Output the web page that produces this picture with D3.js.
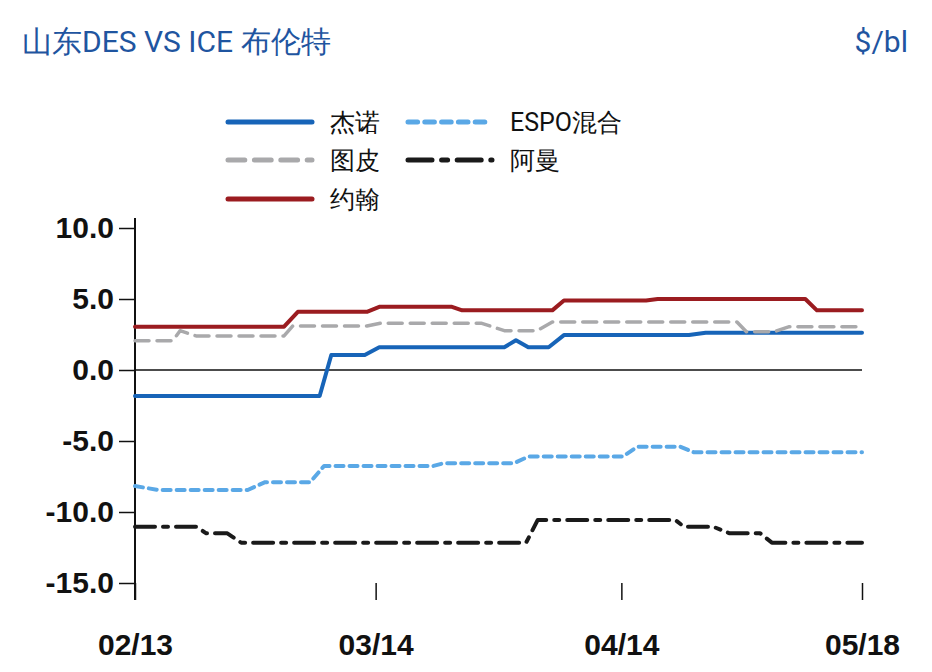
<!DOCTYPE html>
<html><head><meta charset="utf-8">
<script src="https://cdnjs.cloudflare.com/ajax/libs/d3/7.8.5/d3.min.js"></script>
<style>body{margin:0;background:#fff}</style></head>
<body><svg id="c" width="932" height="672"></svg>
<script>
const yTicks=[10,5,0,-5,-10,-15];
const xTickPos=[0,33.1,66.9,100];
const xTickLabels=["02/13","03/14","04/14","05/18"];
const jieNuo=[[0,-1.83],[25.4,-1.83],[27.0,1.06],[31.6,1.06],[33.6,1.6],[50.8,1.6],[52.4,2.1],[54.1,1.6],[56.9,1.6],[59.0,2.46],[76.2,2.46],[78.5,2.63],[100,2.63]];
const tuPi=[[0,2.06],[5.2,2.06],[6.2,2.77],[8.4,2.4],[20.5,2.4],[21.7,3.1],[31.9,3.1],[33.8,3.3],[47.6,3.3],[50.8,2.77],[55.3,2.77],[57.4,3.38],[82.8,3.38],[84.1,2.7],[87.9,2.7],[90.0,3.05],[100,3.05]];
const yueHan=[[0,3.05],[20.5,3.05],[22.4,4.1],[31.9,4.1],[33.6,4.45],[43.6,4.45],[45.0,4.2],[57.4,4.2],[59.0,4.9],[70.3,4.9],[71.9,5.0],[92.2,5.0],[93.8,4.2],[100,4.2]];
const espo=[[0,-8.17],[3.2,-8.45],[15.5,-8.45],[17.9,-7.9],[24.1,-7.9],[26.0,-6.76],[41.0,-6.76],[42.4,-6.57],[52.1,-6.57],[54.1,-6.1],[67.1,-6.1],[69.1,-5.4],[75.0,-5.4],[76.9,-5.8],[100,-5.8]];
const aman=[[0,-11.03],[8.4,-11.03],[9.8,-11.5],[12.7,-11.5],[14.6,-12.16],[53.8,-12.16],[55.4,-10.56],[74.3,-10.56],[75.5,-11.03],[79.5,-11.03],[81.8,-11.5],[86.0,-11.5],[87.6,-12.16],[100,-12.16]];
const series=[
 {name:"杰诺",data:jieNuo,color:"#1764b8",dash:null,w:4},
 {name:"ESPO混合",data:espo,color:"#5aa8e6",dash:"8,6",w:4},
 {name:"图皮",data:tuPi,color:"#a9a9ab",dash:"14,8",w:3.5},
 {name:"阿曼",data:aman,color:"#1a1a1a",dash:"20,8,5,8",w:4},
 {name:"约翰",data:yueHan,color:"#9b1c20",dash:null,w:4}
];
const svg=d3.select("#c");
const x=d3.scaleLinear().domain([0,100]).range([135,862]);
const y=d3.scaleLinear().domain([-15,10]).range([583,228]);
const narrow="'Liberation Sans Narrow','Arial Narrow','Roboto',sans-serif";
svg.append("text").attr("x",22).attr("y",52).attr("fill","#1f55a0").attr("font-size",30).attr("font-family",narrow).text("山东DES VS ICE 布伦特");
svg.append("text").attr("x",908).attr("y",52).attr("text-anchor","end").attr("fill","#1f55a0").attr("font-size",30).attr("font-family",narrow).text("$/bl");
const legPos=[[228,122],[408,122],[228,160],[408,160],[228,199]];
series.forEach((s,i)=>{
 const [lx,ly]=legPos[i];
 svg.append("line").attr("x1",lx).attr("x2",lx+84).attr("y1",ly).attr("y2",ly).attr("stroke",s.color).attr("stroke-width",5).attr("stroke-linecap","round").attr("stroke-dasharray",s.dash?s.dash.split(",").map(v=>+v*1.2).join(","):null);
 svg.append("text").attr("x",lx+102).attr("y",ly+9).attr("font-size",25).attr("font-family",narrow).attr("fill","#111").text(s.name);
});
const fmt=d=>d3.format(".1f")(d).replace("−","-");
svg.append("g").attr("transform","translate(135,0)").call(d3.axisLeft(y).tickValues(yTicks).tickFormat(fmt).tickSize(16).tickPadding(5))
 .call(g=>g.select(".domain").remove())
 .call(g=>g.selectAll("text").attr("font-size",30).attr("font-weight","bold").attr("font-family","'Liberation Sans',Arial,sans-serif").attr("fill","#111"))
 .call(g=>g.selectAll("line").attr("stroke","#111").attr("stroke-width",1.5));
svg.append("line").attr("x1",135).attr("x2",135).attr("y1",218).attr("y2",600).attr("stroke","#111").attr("stroke-width",2);
svg.append("g").attr("transform","translate(0,583)").call(d3.axisBottom(x).tickValues(xTickPos).tickFormat((d,i)=>xTickLabels[i]).tickSize(17).tickPadding(34))
 .call(g=>g.select(".domain").remove())
 .call(g=>g.selectAll("text").attr("font-size",30).attr("font-weight","bold").attr("font-family","'Liberation Sans',Arial,sans-serif").attr("fill","#111"))
 .call(g=>g.selectAll("line").attr("stroke","#111").attr("stroke-width",1.5));
svg.append("line").attr("x1",135).attr("x2",862).attr("y1",y(0)).attr("y2",y(0)).attr("stroke","#111").attr("stroke-width",1.5);
const line=d3.line().x(d=>x(d[0])).y(d=>y(d[1]));
series.forEach(s=>{
 svg.append("path").attr("d",line(s.data)).attr("fill","none").attr("stroke",s.color).attr("stroke-width",s.w).attr("stroke-linecap","round").attr("stroke-linejoin","round").attr("stroke-dasharray",s.dash);
});
</script></body></html>
